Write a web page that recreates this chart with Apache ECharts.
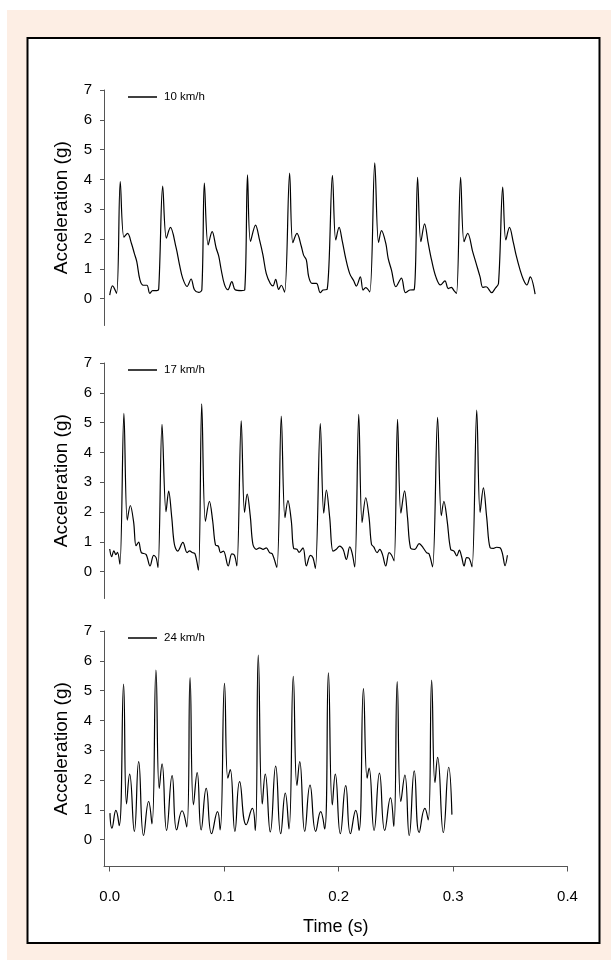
<!DOCTYPE html>
<html><head><meta charset="utf-8">
<script src="https://cdn.jsdelivr.net/npm/echarts/dist/echarts.min.js"></script>
<style>html,body{margin:0;padding:0;background:#fff}#c{width:611px;height:960px}</style>
</head><body><div id="c"></div><script>
// ---- data ----
const xTicks = [0, 0.1, 0.2, 0.3, 0.4];
const yTicks = [0, 1, 2, 3, 4, 5, 6, 7];
const names = ['10 km/h', '17 km/h', '24 km/h'];

const t10 = [0.000,0.0025,0.006,0.0092,0.0124,0.0156,0.019,0.0215,0.0236,0.0264,0.0293,0.0325,0.035,0.0375,0.041,0.0428,
0.0463,0.0495,0.053,0.058,0.0609,0.0638,0.0676,0.0711,0.074,0.0778,0.0805,
0.0827,0.086,0.0895,0.093,0.0953,0.0974,0.1003,0.1032,0.1067,0.1096,0.1149,0.118,
0.1204,0.123,0.1274,0.1309,0.1339,0.1368,0.1403,0.1426,0.145,0.1476,0.1499,0.1528,
0.1572,0.16,0.1636,0.1674,0.1694,0.1718,0.1739,0.1768,0.1806,0.184,0.1864,0.19,
0.1946,0.1975,0.2004,0.2033,0.2062,0.2097,0.2132,0.2155,0.219,0.2214,0.2237,0.2272,
0.2316,0.2349,0.2375,0.2412,0.2433,0.2462,0.25,0.2549,0.2584,0.2623,0.266,
0.269,0.2719,0.2751,0.2783,0.2812,0.285,0.289,0.2929,0.2958,0.2985,0.3008,0.303,
0.3066,0.3096,0.3128,0.3172,0.3201,0.3236,0.326,0.3289,0.3338,0.3367,0.3397,
0.3434,0.3461,0.3493,0.3528,0.3551,0.3586,0.3616,0.3645,0.3674,0.3717];
const a10 = [0.12,0.43,0.18,3.93,2.06,2.19,1.85,1.52,1.25,0.63,0.45,0.45,0.18,0.27,0.27,0.32,
3.78,2.03,2.39,1.71,1.15,0.68,0.41,0.66,0.3,0.21,0.3,
3.88,1.8,2.25,1.7,1.42,0.97,0.47,0.3,0.57,0.3,0.27,0.3,
4.15,1.92,2.47,1.97,1.46,0.84,0.51,0.43,0.65,0.31,0.45,0.22,
4.21,1.88,2.19,1.76,1.46,1.3,0.73,0.51,0.51,0.2,0.29,0.31,
4.14,1.97,2.39,1.91,1.35,0.84,0.6,0.42,0.73,0.29,0.37,0.23,
4.56,1.88,2.28,1.86,1.35,0.96,0.4,0.69,0.2,0.29,0.3,
4.07,1.91,2.51,1.86,1.3,0.73,0.46,0.6,0.34,0.38,0.27,0.18,
4.07,1.91,2.19,1.57,1.19,0.73,0.38,0.4,0.2,0.34,0.51,
3.74,1.97,2.39,1.86,1.46,0.96,0.63,0.46,0.73,0.15];

const t17 = [0.000,0.0017,0.0036,0.0054,0.0068,0.0089,
0.0124,0.0153,0.018,0.0209,0.023,0.0253,0.0276,0.0317,0.0352,0.0384,0.0405,0.0422,
0.0457,0.0492,0.0515,0.0542,0.0565,0.0594,0.0639,0.0676,0.0698,0.0721,0.0745,0.0775,
0.0804,0.0836,0.0871,0.09,0.0924,0.095,0.0968,0.0994,0.1035,0.1067,0.109,0.1111,
0.1149,0.1178,0.1201,0.1228,0.1251,0.128,0.1309,0.134,0.1368,0.1397,0.142,0.146,
0.1499,0.1531,0.1557,0.1587,0.1607,0.1636,0.1655,0.1689,0.1718,0.1753,0.1776,0.1797,
0.184,0.187,0.1893,0.1922,0.1951,0.198,0.2009,0.2039,0.2068,0.2097,0.2117,0.2141,
0.2176,0.2205,0.2237,0.2266,0.2287,0.2307,0.2336,0.236,0.2383,0.2412,0.2441,0.2462,0.2485,
0.2515,0.2544,0.2576,0.2602,0.2628,0.2666,0.2704,0.2739,0.2768,0.279,0.2821,
0.2865,0.2897,0.292,0.2949,0.2979,0.3008,0.3032,0.3055,0.3075,0.3096,0.3119,0.314,0.3166,
0.3207,0.3236,0.3265,0.3294,0.3324,0.3353,0.338,0.3411,0.3432,0.3454,0.3475];
const a17 = [0.76,0.5,0.7,0.57,0.65,0.25,
5.31,1.73,2.22,1.66,0.87,0.99,0.64,0.58,0.19,0.55,0.47,0.14,
4.94,2.01,2.7,1.82,0.92,0.69,0.98,0.64,0.7,0.64,0.6,0.05,
5.63,1.69,2.36,1.69,0.9,0.85,0.64,0.69,0.19,0.6,0.55,0.19,
5.06,1.99,2.6,1.87,0.92,0.75,0.8,0.75,0.8,0.64,0.6,0.14,
5.22,1.81,2.38,1.69,0.78,0.75,0.65,0.8,0.19,0.55,0.47,0.11,
4.97,1.96,2.74,1.82,0.69,0.75,0.86,0.75,0.41,0.83,0.64,0.16,
5.28,1.65,2.48,1.82,0.92,0.83,0.64,0.75,0.58,0.19,0.64,0.56,0.36,
5.11,1.96,2.71,1.82,0.8,0.75,0.94,0.8,0.64,0.6,0.16,
5.18,1.88,2.36,1.69,0.75,0.69,0.53,0.72,0.5,0.19,0.47,0.45,0.16,
5.42,1.99,2.81,1.82,0.8,0.78,0.82,0.8,0.6,0.2,0.55];

const t24 = [0.0002,0.0019,0.0054,0.0083,
0.0121,0.0147,0.0174,0.0215,0.0253,0.0296,0.034,0.0369,
0.0404,0.0433,0.0457,0.0497,0.0545,0.0585,0.0632,0.0673,
0.0702,0.0732,0.0764,0.0799,0.0843,0.089,0.0942,0.0965,
0.1003,0.1032,0.1053,0.1094,0.1135,0.1193,0.1246,0.1272,
0.1298,0.1333,0.1359,0.1403,0.145,0.1494,0.1534,0.1566,
0.1604,0.1636,0.166,0.1704,0.175,0.18,0.1843,0.1878,
0.1911,0.1945,0.1971,0.2015,0.2062,0.2103,0.215,0.2179,
0.2217,0.2249,0.2266,0.231,0.2357,0.2403,0.2453,0.2482,
0.2512,0.2544,0.2579,0.2617,0.2661,0.2704,0.2754,0.2783,
0.2813,0.2842,0.2865,0.2915,0.2962,0.299];
const a24 = [0.89,0.39,0.98,0.47,
5.22,1.2,2.2,0.28,2.62,0.14,1.28,0.53,
5.69,1.72,2.54,0.31,2.15,0.33,0.97,0.43,
5.44,1.17,2.25,0.33,1.72,0.2,0.94,0.33,
5.24,2.06,2.35,0.28,1.95,0.5,1.05,0.31,
6.19,1.2,2.2,0.26,2.47,0.2,1.56,0.36,
5.48,1.82,2.62,0.28,1.83,0.28,0.94,0.36,
5.6,1.17,2.2,0.2,1.81,0.2,0.98,0.31,
5.07,2.06,2.4,0.31,2.23,0.31,1.4,0.45,
5.3,1.28,2.17,0.14,2.31,0.24,1.05,0.66,
5.35,1.91,2.76,0.24,2.43,0.84];

// ---- chart ----
const FONT = 'Liberation Sans, Arial, sans-serif';
const zip = (t, a) => t.map((v, i) => [v, a[i]]);
const seriesData = [zip(t10, a10), zip(t17, a17), zip(t24, a24)];
const smooths = [0.35, 0.35, 0.5];
const tops = [90, 363, 631];
const panelH = 235.5;

const chart = echarts.init(document.getElementById('c'), null, {renderer: 'canvas'});

const grids = tops.map(t => ({left: 104, top: t, width: 463.5, height: panelH}));
const xAxes = tops.map((t, i) => ({
  gridIndex: i, type: 'value', min: -0.005, max: 0.4,
  show: i === 2,
  axisLine: {show: true, onZero: false, lineStyle: {color: '#555', width: 1}},
  axisTick: {show: true, inside: false, length: 5, customValues: xTicks, lineStyle: {color: '#555'}},
  axisLabel: {show: true, customValues: xTicks, formatter: v => v.toFixed(1), color: '#000',
    fontSize: 15, fontFamily: FONT, margin: 23},
  splitLine: {show: false},
  name: i === 2 ? 'Time (s)' : '', nameLocation: 'middle', nameGap: 52,
  nameTextStyle: {fontSize: 18, fontFamily: FONT, color: '#000'}
}));
const yAxes = tops.map((t, i) => ({
  gridIndex: i, type: 'value', min: -0.9, max: 7,
  axisLine: {show: true, onZero: false, lineStyle: {color: '#555', width: 1}},
  axisTick: {show: true, inside: false, length: 4, customValues: yTicks, lineStyle: {color: '#555'}},
  axisLabel: {show: true, customValues: yTicks, color: '#000', fontSize: 15, fontFamily: FONT, margin: 12},
  splitLine: {show: false},
  name: 'Acceleration (g)', nameLocation: 'middle', nameGap: 33,
  nameTextStyle: {fontSize: 19, fontFamily: FONT, color: '#000'}
}));
const series = names.map((n, i) => ({
  type: 'line', name: n, xAxisIndex: i, yAxisIndex: i, data: seriesData[i],
  symbol: 'none', smooth: smooths[i], animation: false,
  lineStyle: {color: '#000', width: 1.2}, itemStyle: {color: '#000'}
}));
const legends = names.map((n, i) => ({
  data: [{name: n, icon: 'rect'}], left: 128, top: tops[i] + 1, padding: 0, itemWidth: 29, itemHeight: 1.5,
  selectedMode: false,
  itemStyle: {color: '#000'},
  textStyle: {fontSize: 11.5, fontFamily: FONT, color: '#000', padding: [0, 0, 0, 2]}
}));

chart.setOption({
  backgroundColor: '#fff',
  animation: false,
  graphic: [
    {type: 'rect', z: -20, silent: true, shape: {x: 7, y: 10, width: 604, height: 950}, style: {fill: '#fdeee4'}},
    {type: 'rect', z: -10, silent: true, shape: {x: 27.5, y: 38, width: 572, height: 905}, style: {fill: '#fff', stroke: '#000', lineWidth: 2}}
  ],
  grid: grids, xAxis: xAxes, yAxis: yAxes, series: series, legend: legends
});
</script></body></html>
